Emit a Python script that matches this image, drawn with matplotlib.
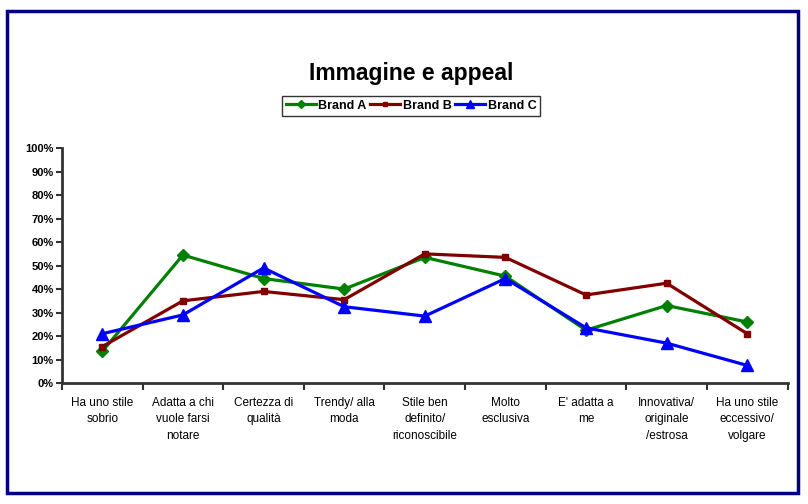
import matplotlib
matplotlib.use("Agg")
import matplotlib.pyplot as plt
from matplotlib.patches import Rectangle
import numpy as np

plt.rcParams['font.family'] = ['Liberation Sans', 'DejaVu Sans']

# Dati
categories = ["Ha uno stile\nsobrio", "Adatta a chi\nvuole farsi\nnotare", "Certezza di\nqualità",
              "Trendy/ alla\nmoda", "Stile ben\ndefinito/\nriconoscibile", "Molto\nesclusiva",
              "E' adatta a\nme", "Innovativa/\noriginale\n/estrosa", "Ha uno stile\neccessivo/\nvolgare"]
brand_a = [13.5, 54.5, 44.5, 40, 53.5, 45.5, 22.5, 33, 26]
brand_b = [15.5, 35, 39, 35.5, 55, 53.5, 37.5, 42.5, 21]
brand_c = [21, 29, 49, 32.5, 28.5, 44.5, 23.5, 17, 7.5]
y_ticks = [0, 10, 20, 30, 40, 50, 60, 70, 80, 90, 100]

fig = plt.figure(figsize=(8.08, 5.04), dpi=100)
ax = fig.add_axes([0.0767, 0.240, 0.898, 0.466])

x = np.arange(len(categories))
ax.plot(x, brand_a, color="#008000", lw=2.3, marker="D", ms=6.5, label="Brand A")
ax.plot(x, brand_b, color="#800000", lw=2.3, marker="s", ms=4.5, label="Brand B")
ax.plot(x, brand_c, color="#0000FF", lw=2.3, marker="^", ms=8.5, label="Brand C")

ax.set_xlim(-0.5, len(categories) - 0.5)
ax.set_ylim(0, 100)
ax.set_yticks(y_ticks)
ax.set_yticklabels([f"{v}%" for v in y_ticks], fontsize=8, fontweight="bold")
ax.set_xticks(x)
ax.set_xticklabels(categories, fontsize=8.5, linespacing=1.5)
ax.tick_params(axis="x", length=0, pad=10)
ax.set_xticks(np.arange(-0.5, len(categories)), minor=True)
ax.tick_params(axis="x", which="minor", length=5, width=1.5, color="#333333")
ax.tick_params(axis="y", length=4, width=1.5, color="#333333", pad=2)

for s in ["top", "right"]:
    ax.spines[s].set_visible(False)
for s in ["left", "bottom"]:
    ax.spines[s].set_linewidth(2)
    ax.spines[s].set_color("#333333")

fig.text(0.509, 0.855, "Immagine e appeal", ha="center", va="center",
         fontsize=16.5, fontweight="bold")

leg = fig.legend(loc="center", bbox_to_anchor=(0.509, 0.79), ncol=3,
                 prop={"size": 9, "weight": "bold"}, handlelength=2.4,
                 handletextpad=0.2, columnspacing=0.3, borderpad=0.3,
                 fancybox=False, frameon=True, markerscale=0.7)
leg.get_frame().set_edgecolor("black")
leg.get_frame().set_linewidth(1)

# cornice esterna
fig.patches.append(Rectangle((0.009, 0.021), 0.979, 0.957, transform=fig.transFigure,
                             fill=False, edgecolor="#000080", lw=2.5))

fig.savefig("out.png", dpi=100)
